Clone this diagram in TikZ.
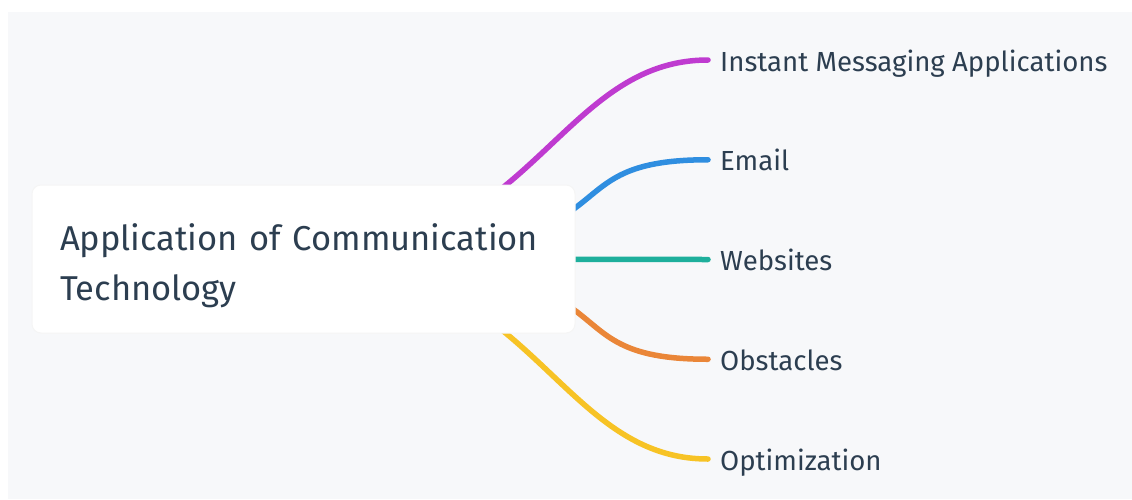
\documentclass[tikz,border=0pt]{standalone}
\usepackage{fontspec}
\setmainfont{Fira Sans}
\usetikzlibrary{positioning,backgrounds}

\definecolor{canvas}{HTML}{F7F8FA}
\definecolor{inkdark}{HTML}{2C3E50}
\definecolor{linkpurple}{HTML}{BF3BD0}
\definecolor{linkblue}{HTML}{2F8EE0}
\definecolor{linkteal}{HTML}{1EAF9C}
\definecolor{linkorange}{HTML}{EA8638}
\definecolor{linkyellow}{HTML}{F7C325}

\tikzset{
  root/.style={fill=white, draw=black!4, line width=1pt, rounded corners=9pt,
    text=inkdark, align=left, text width=487pt, inner xsep=28pt,
    minimum height=148pt, font=\fontsize{34.5}{50}\selectfont},
  leaf/.style={anchor=west, inner xsep=12pt, inner ysep=0pt,
    text height=22pt, text depth=0pt, text=inkdark,
    font=\fontsize{27.6}{32}\selectfont},
  branch/.style={line width=5.5pt, line cap=round, draw=#1},
}

\begin{document}
\begin{tikzpicture}[x=1pt, y=-1pt]
  \useasboundingbox (0,0) rectangle (1132,499);

  % central topic (the rule pushes the two lines down a little)
  \node (root) [root] at (303.5,259) {\rule{0pt}{41pt}Application of Communication\\Technology};

  % sub topics
  \node (im) [leaf] at (708,60) {Instant Messaging Applications};
  \node (email) [leaf, below=99.75pt of im.west, anchor=west] {Email};
  \node (web) [leaf, below=99.75pt of email.west, anchor=west] {Websites};
  \node (obst) [leaf, below=99.75pt of web.west, anchor=west] {Obstacles};
  \node (opt) [leaf, below=99.75pt of obst.west, anchor=west] {Optimization};

  \begin{pgfonlayer}{background}
    \fill[white] (0,0) rectangle (1132,499);
    \fill[canvas] (8,12) rectangle (1132,499);
    % branches run under the central box
    \draw[branch=linkpurple] (root.center) .. controls +(228,0) and +(-150,0) .. (im.west);
    \draw[branch=linkblue] (root.center) .. controls +(358,0) and +(-178,0) .. (email.west);
    \draw[branch=linkteal] (root.center) -- (web.west);
    \draw[branch=linkorange] (root.center) .. controls +(358,0) and +(-178,0) .. (obst.west);
    \draw[branch=linkyellow] (root.center) .. controls +(228,0) and +(-150,0) .. (opt.west);
  \end{pgfonlayer}
\end{tikzpicture}
\end{document}
